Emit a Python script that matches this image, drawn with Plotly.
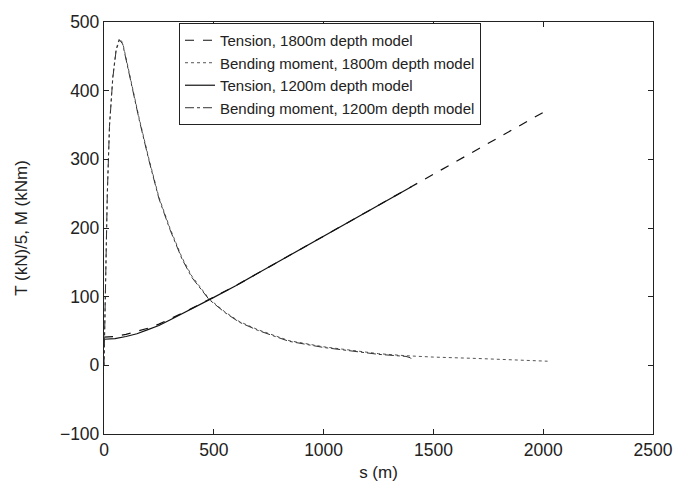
import plotly.graph_objects as go

# Tension (divided by 5), 1800 m depth model
s_t1800 = [0, 50, 100, 150, 200, 250, 300, 350, 400, 450, 500, 600, 700, 800, 1000, 1200, 1400, 1600, 1800, 2020]
t_1800 = [41, 42, 45, 49, 54, 60, 67, 75, 83, 91, 99, 116, 134, 152, 188, 224, 260, 296, 332, 372]

# Tension (divided by 5), 1200 m depth model
s_t1200 = [0, 50, 100, 150, 200, 250, 300, 350, 400, 450, 500, 600, 700, 800, 1000, 1200, 1400]
t_1200 = [38, 39, 42, 46, 52, 58, 66, 74, 82, 91, 99, 116, 134, 152, 188, 224, 260]

# Bending moment, 1800 m depth model
s_m1800 = [0, 3, 7, 10, 15, 25, 40, 55, 70, 85, 100, 130, 160, 205, 250, 300, 355, 400, 478, 550, 615, 700,
           842, 1000, 1147, 1250, 1375, 1500, 1700, 1850, 2020]
m_1800 = [0, 50, 100, 150, 250, 350, 420, 460, 476, 470, 447, 405, 360, 300, 245, 200, 157, 130, 97, 78, 64, 52,
          36, 27, 21, 17, 14, 12, 10, 8, 6]

# Bending moment, 1200 m depth model
s_m1200 = [0, 3, 7, 10, 15, 25, 40, 55, 70, 85, 100, 130, 160, 205, 250, 300, 355, 400, 478, 550, 615, 700,
           842, 1000, 1147, 1250, 1375, 1395, 1405]
m_1200 = [0, 48, 98, 148, 248, 348, 418, 458, 474, 468, 445, 403, 358, 298, 243, 198, 155, 128, 96, 77, 63, 51,
          35, 26, 20, 16, 13, 11, 7]

x_ticks = [0, 500, 1000, 1500, 2000, 2500]
y_ticks = [-100, 0, 100, 200, 300, 400, 500]

fig = go.Figure()
fig.add_trace(go.Scatter(x=s_t1800, y=t_1800, mode="lines", name="Tension, 1800m depth model",
                         line=dict(color="#111", width=1.2, dash="dash")))
fig.add_trace(go.Scatter(x=s_m1800, y=m_1800, mode="lines", name="Bending moment, 1800m depth model",
                         line=dict(color="#555", width=1, dash="dot")))
fig.add_trace(go.Scatter(x=s_t1200, y=t_1200, mode="lines", name="Tension, 1200m depth model",
                         line=dict(color="#111", width=1.2, dash="solid")))
fig.add_trace(go.Scatter(x=s_m1200, y=m_1200, mode="lines", name="Bending moment, 1200m depth model",
                         line=dict(color="#333", width=1, dash="dashdot")))

axis_common = dict(showgrid=False, zeroline=False, showline=True, linecolor="#222", linewidth=1.3,
                   mirror="ticks", ticks="inside", ticklen=5, tickcolor="#222",
                   tickfont=dict(size=17.5, color="#222"))

fig.update_layout(
    width=687, height=502,
    margin=dict(l=104, r=34, t=13, b=68),
    paper_bgcolor="white", plot_bgcolor="white",
    font=dict(family="Liberation Sans, Arial, sans-serif", color="#222"),
    xaxis=dict(range=[0, 2500], tickvals=x_ticks, ticktext=[str(v) for v in x_ticks],
               title=dict(text="s (m)", font=dict(size=17), standoff=6), **axis_common),
    yaxis=dict(range=[-100, 500], tickvals=y_ticks,
               ticktext=[("\u2212100" if v == -100 else str(v)) for v in y_ticks],
               title=dict(text="T (kN)/5, M (kNm)", font=dict(size=17), standoff=27), **axis_common),
    legend=dict(x=(179 - 104) / 549, y=1 - 1 / 421, xanchor="left", yanchor="top", bgcolor="white",
                bordercolor="#222", borderwidth=1, font=dict(size=15, color="#222"),
                tracegroupgap=0, itemwidth=30),
    showlegend=True,
)

fig.write_html("out.html")
